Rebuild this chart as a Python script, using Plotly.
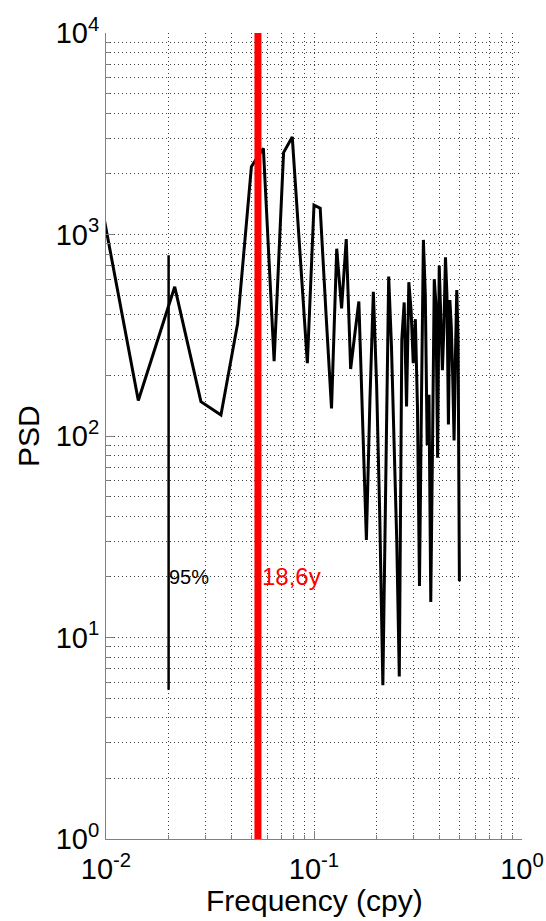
import math
import plotly.graph_objects as go

# Frequency grid (cycles per year) and power spectral density
freq = [0.0071, 0.0143, 0.0214, 0.0286, 0.0357, 0.0429, 0.0500, 0.0571, 0.0643, 0.0714,
        0.0786, 0.0857, 0.0929, 0.1000, 0.1071, 0.1143, 0.1214, 0.1286, 0.1357, 0.1429,
        0.1500, 0.1571, 0.1643, 0.1714, 0.1786, 0.1857, 0.1929, 0.2000, 0.2071, 0.2143,
        0.2214, 0.2286, 0.2357, 0.2429, 0.2500, 0.2571, 0.2643, 0.2714, 0.2786, 0.2857,
        0.2929, 0.3000, 0.3071, 0.3143, 0.3214, 0.3286, 0.3357, 0.3429, 0.3500, 0.3571,
        0.3643, 0.3714, 0.3786, 0.3857, 0.3929, 0.4000, 0.4071, 0.4143, 0.4214, 0.4286,
        0.4357, 0.4429, 0.4500, 0.4571, 0.4643, 0.4714, 0.4786, 0.4857, 0.4929, 0.5000]
psd = [7000, 150, 550, 148, 127, 360, 2170, 2680, 235, 2550,
       3050, 800, 230, 1400, 1350, 400, 137, 850, 430, 950,
       215, 320, 465, 116, 30.5, 150, 520, 180, 40, 5.8,
       60, 618, 280, 100, 30, 6.4, 300, 460, 140, 580,
       420, 230, 380, 140, 18, 150, 940, 500, 90, 160,
       15, 90, 600, 450, 78, 700, 400, 212, 350, 770,
       500, 114, 473, 350, 200, 95, 250, 530, 300, 19]

# 95% confidence bar
conf_freq = [0.02, 0.02]
conf_psd = [5.5, 790]
conf_label = "95%"

# 18.6-year nodal cycle marker
nodal_period = 18.6
nodal_freq = [1 / nodal_period, 1 / nodal_period]
nodal_psd = [1, 10000]
nodal_label = "18,6y"
label_psd = 20

xtick_vals = [0.01, 0.1, 1]
xtick_text = ["10<sup>-2</sup>", "10<sup>-1</sup>", "10<sup>0</sup>"]
ytick_vals = [1, 10, 100, 1000, 10000]
ytick_text = ["10<sup>0</sup>", "10<sup>1</sup>", "10<sup>2</sup>", "10<sup>3</sup>", "10<sup>4</sup>"]
x_title = "Frequency (cpy)"
y_title = "PSD"

FONT = "Liberation Sans, Arial, Helvetica, sans-serif"

fig = go.Figure()
fig.add_trace(go.Scatter(x=freq, y=psd, mode="lines",
                         line=dict(color="black", width=3), showlegend=False))
fig.add_trace(go.Scatter(x=conf_freq, y=conf_psd, mode="lines",
                         line=dict(color="black", width=2.5), showlegend=False))
fig.add_trace(go.Scatter(x=nodal_freq, y=nodal_psd, mode="lines",
                         line=dict(color="#ff0000", width=7), showlegend=False))

fig.add_annotation(x=math.log10(conf_freq[0]), y=math.log10(label_psd), text=conf_label,
                   showarrow=False, xanchor="left", yanchor="middle", xshift=-2,
                   font=dict(family=FONT, size=20, color="black"))
fig.add_annotation(x=math.log10(nodal_freq[0]), y=math.log10(label_psd), text=nodal_label,
                   showarrow=False, xanchor="left", yanchor="middle", xshift=2,
                   font=dict(family=FONT, size=24, color="#ff0000"))

# axis titles placed in paper space
fig.add_annotation(xref="paper", yref="paper", x=0.5, y=-0.076, text=x_title,
                   showarrow=False, xanchor="center", yanchor="middle",
                   font=dict(family=FONT, size=30, color="black"))
fig.add_annotation(xref="paper", yref="paper", x=-0.1875, y=0.5, text=y_title, textangle=-90,
                   showarrow=False, xanchor="center", yanchor="middle",
                   font=dict(family=FONT, size=30, color="black"))

GRID_DASH = "1px,3px"
axis_common = dict(
    type="log", automargin=False,
    showline=True, linecolor="#808080", linewidth=1,
    ticks="inside", ticklen=8, tickcolor="#808080",
    showgrid=True, gridcolor="#404040", griddash=GRID_DASH, gridwidth=1,
    zeroline=False, ticklabeloverflow="allow",
    tickfont=dict(family=FONT, size=29, color="black"),
    minor=dict(dtick="D1", showgrid=True, gridcolor="#404040", griddash=GRID_DASH,
               gridwidth=1, ticks="inside", ticklen=4, tickcolor="#808080"),
)

fig.update_xaxes(range=[-2, 0], tickmode="array", tickvals=xtick_vals, ticktext=xtick_text,
                 ticklabelstandoff=4, **axis_common)
fig.update_yaxes(range=[0, 4], tickmode="array", tickvals=ytick_vals, ticktext=ytick_text,
                 **axis_common)

fig.update_layout(width=546, height=921,
                  margin=dict(l=106, r=24, t=33, b=82),
                  paper_bgcolor="white", plot_bgcolor="white",
                  font=dict(family=FONT, color="black"))

# remove the default page margin and scrollbars so the figure fills the window exactly
fig.write_html("out.html",
               config={"displayModeBar": False},
               post_script="document.body.style.margin='0';document.body.style.overflow='hidden';")
